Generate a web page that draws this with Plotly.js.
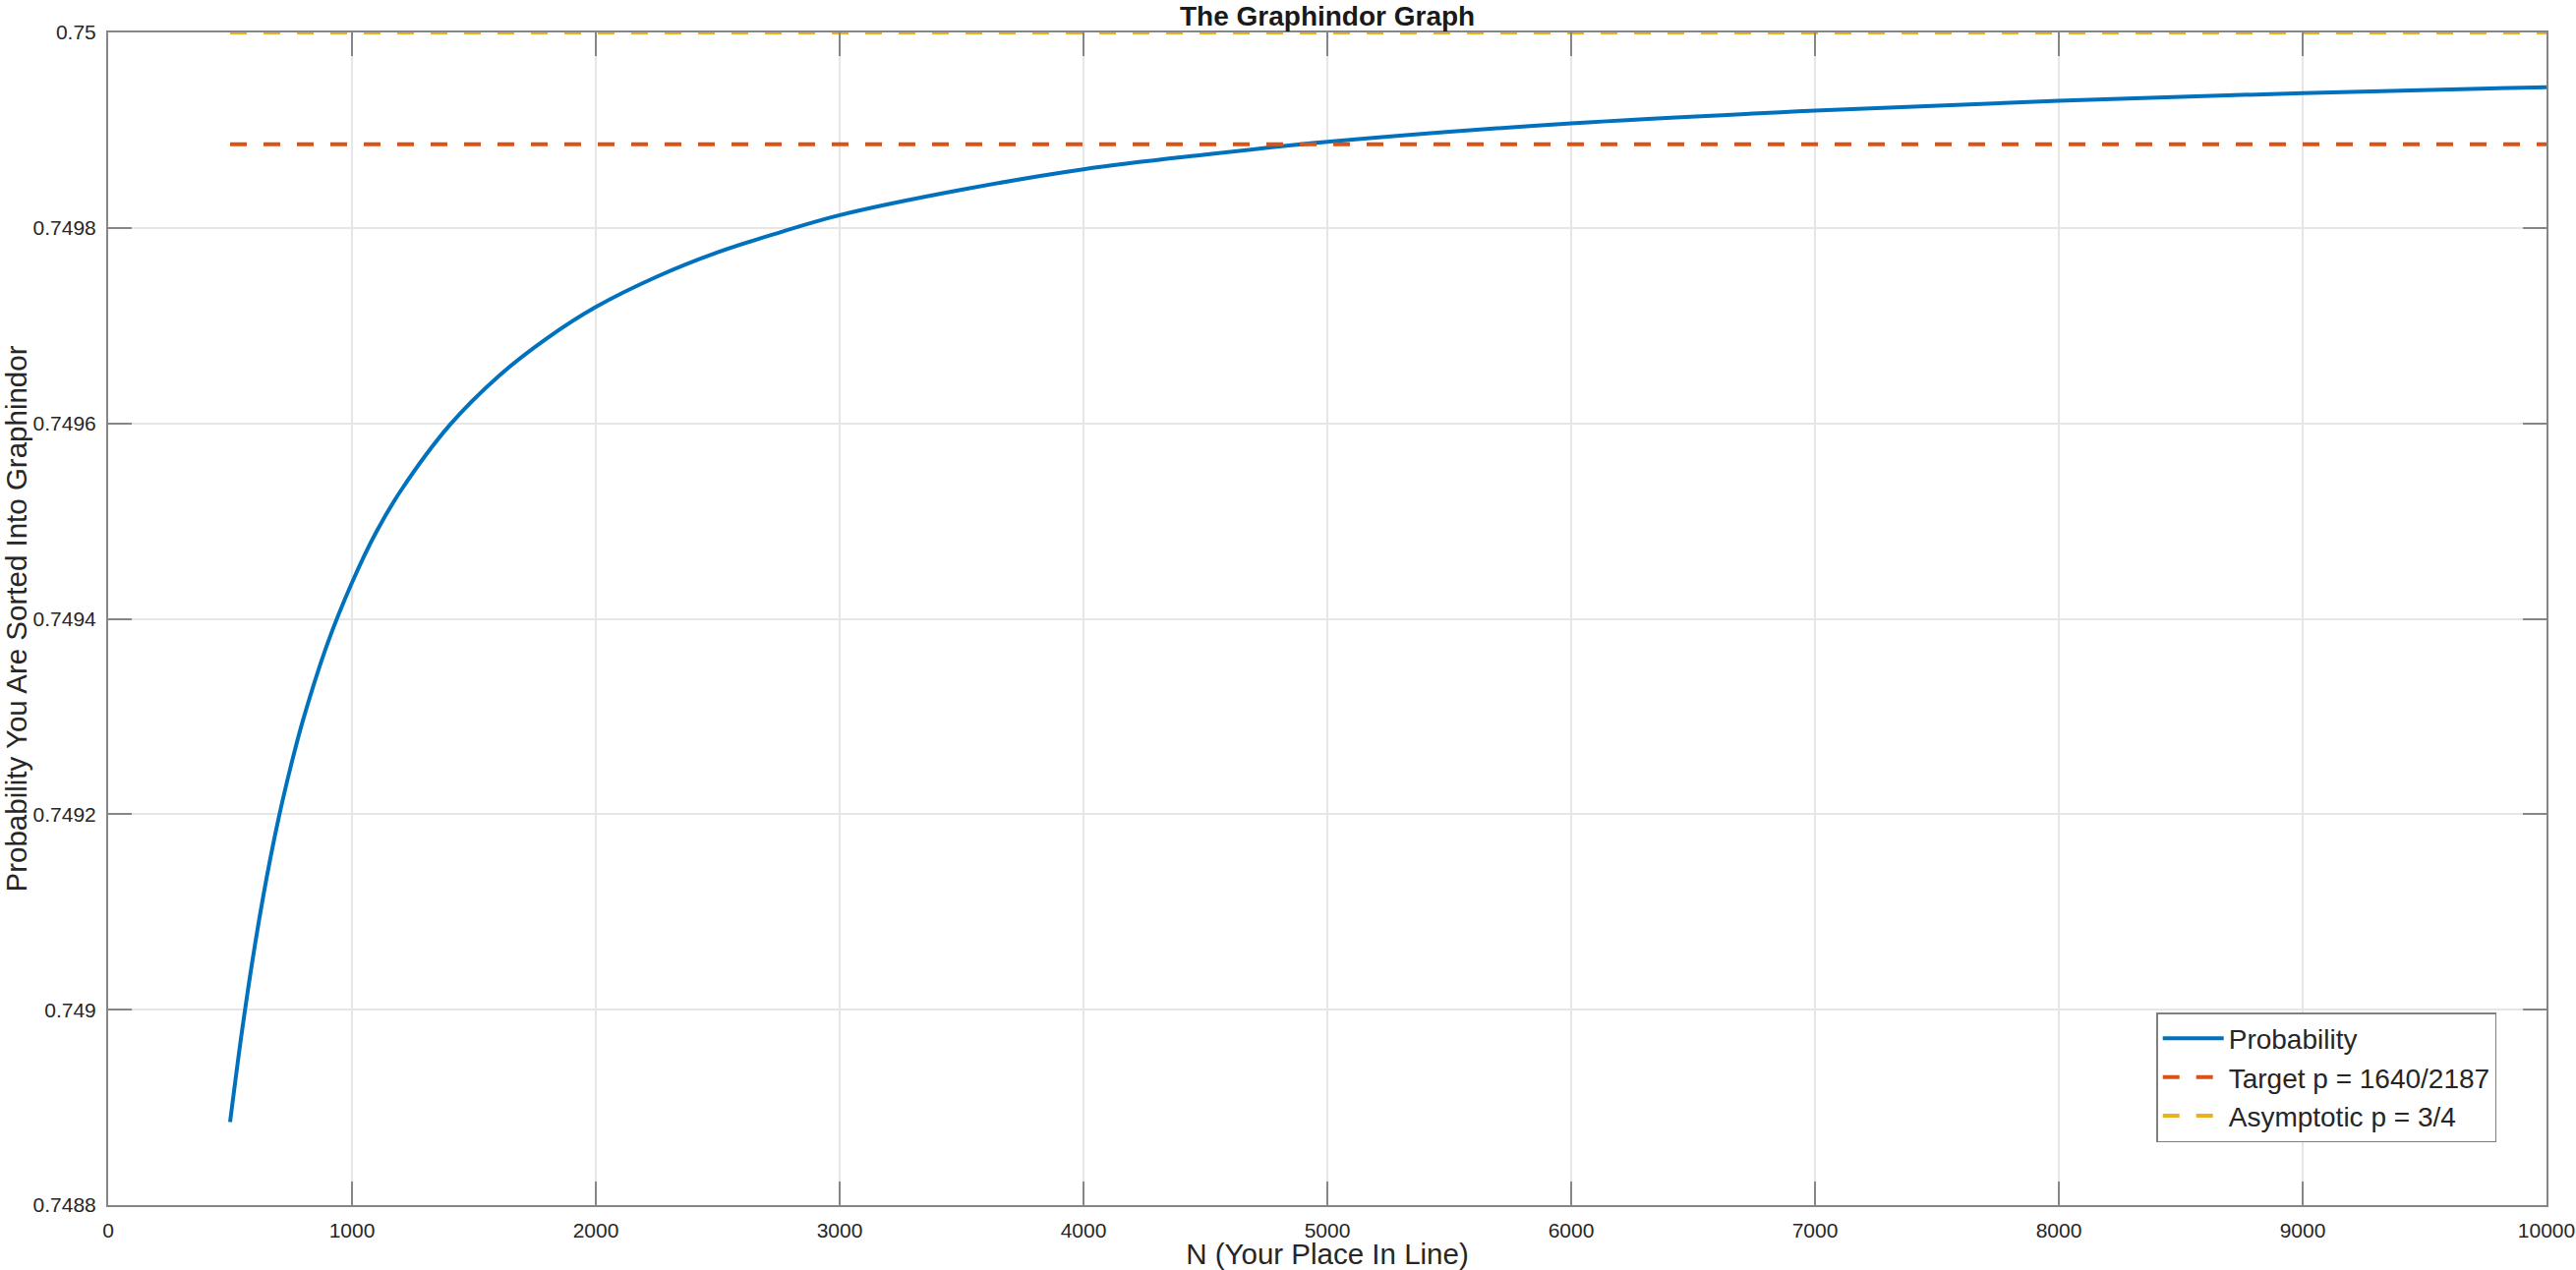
<!DOCTYPE html>
<html>
<head>
<meta charset="utf-8">
<script src="https://cdn.plot.ly/plotly-3.0.1.min.js"></script>
<style>
  html, body { margin: 0; padding: 0; background: #ffffff; }
  #chart { width: 2620px; height: 1292px; }
</style>
</head>
<body>
<div id="chart"></div>
<script>
// ---- Data ----
const placeInLine = [500, 550, 600, 650, 700, 750, 800, 900, 1000, 1100, 1200, 1400, 1600, 1800,
  2000, 2250, 2500, 2750, 3000, 3500, 4000, 4500, 5000, 6000, 7000, 8000, 9000, 10000];
const probability = [0.748885, 0.748980, 0.749063, 0.749135, 0.749197, 0.749250, 0.749297, 0.749375,
  0.749437, 0.749489, 0.749531, 0.749598, 0.749648, 0.749687,
  0.749719, 0.749750, 0.749775, 0.749795, 0.749813, 0.749839, 0.749860, 0.749875, 0.749888,
  0.749907, 0.749920, 0.749930, 0.749938, 0.749944];

const refLineX = [500, 10000];
const targetP = [0.7498857, 0.7498857];
const asymptoticP = [0.75, 0.75];

const seriesNames = ["Probability", "Target p = 1640/2187", "Asymptotic p = 3/4"];

const xTickVals = [0, 1000, 2000, 3000, 4000, 5000, 6000, 7000, 8000, 9000, 10000];
const xTickText = ["0", "1000", "2000", "3000", "4000", "5000", "6000", "7000", "8000", "9000", "10000"];
const yTickVals = [0.7488, 0.749, 0.7492, 0.7494, 0.7496, 0.7498, 0.75];
const yTickText = ["0.7488", "0.749", "0.7492", "0.7494", "0.7496", "0.7498", "0.75"];

const chartTitle = "The Graphindor Graph";
const xTitle = "N (Your Place In Line)";
const yTitle = "Probability You Are Sorted Into Graphindor";

// ---- Traces ----
const traces = [
  {
    x: placeInLine, y: probability, name: seriesNames[0],
    type: "scatter", mode: "lines",
    line: { color: "#0072BD", width: 4, shape: "spline", smoothing: 1 }
  },
  {
    x: refLineX, y: targetP, name: seriesNames[1],
    type: "scatter", mode: "lines",
    line: { color: "#D95319", width: 4, dash: "17px,17px" }
  },
  {
    x: refLineX, y: asymptoticP, name: seriesNames[2],
    type: "scatter", mode: "lines",
    line: { color: "#EDB120", width: 4, dash: "17px,17px" }
  }
];

const FONT = "Liberation Sans, Arial, Helvetica, sans-serif";
const axisCommon = {
  showline: true, linecolor: "#868686", linewidth: 2, mirror: "allticks",
  ticks: "inside", ticklen: 24, tickwidth: 2, tickcolor: "#868686",
  showgrid: true, gridcolor: "#e6e6e6", gridwidth: 2,
  zeroline: false,
  tickfont: { family: FONT, size: 21, color: "#262626" },
  tickmode: "array",
  fixedrange: true
};

const layout = {
  width: 2620, height: 1292,
  paper_bgcolor: "#ffffff", plot_bgcolor: "#ffffff",
  margin: { l: 110, r: 30, t: 33, b: 66, pad: 0 },
  font: { family: FONT, color: "#262626" },
  title: {
    text: "<b>" + chartTitle + "</b>",
    font: { family: FONT, size: 28, color: "#1a1a1a" },
    x: 0.5153, xref: "container", xanchor: "center",
    y: 0.9872, yref: "container", yanchor: "middle"
  },
  xaxis: Object.assign({}, axisCommon, {
    range: [0, 10000], tickvals: xTickVals, ticktext: xTickText,
    ticklabelstandoff: 6,
    title: { text: xTitle, font: { family: FONT, size: 29.5, color: "#262626" }, standoff: 3 }
  }),
  yaxis: Object.assign({}, axisCommon, {
    range: [0.7488, 0.75], tickvals: yTickVals, ticktext: yTickText,
    ticklabelstandoff: 6,
    title: { text: yTitle, font: { family: FONT, size: 29.5, color: "#262626" }, standoff: 8 }
  }),
  showlegend: true,
  legend: {
    x: 0.840, xanchor: "left", y: 0.0536, yanchor: "bottom",
    bgcolor: "#ffffff", bordercolor: "#7f7f7f", borderwidth: 1.5,
    font: { family: FONT, size: 28, color: "#262626" },
    itemwidth: 62,
    tracegroupgap: 0
  }
};

Plotly.newPlot("chart", traces, layout, { displayModeBar: false, staticPlot: true });
</script>
</body>
</html>
